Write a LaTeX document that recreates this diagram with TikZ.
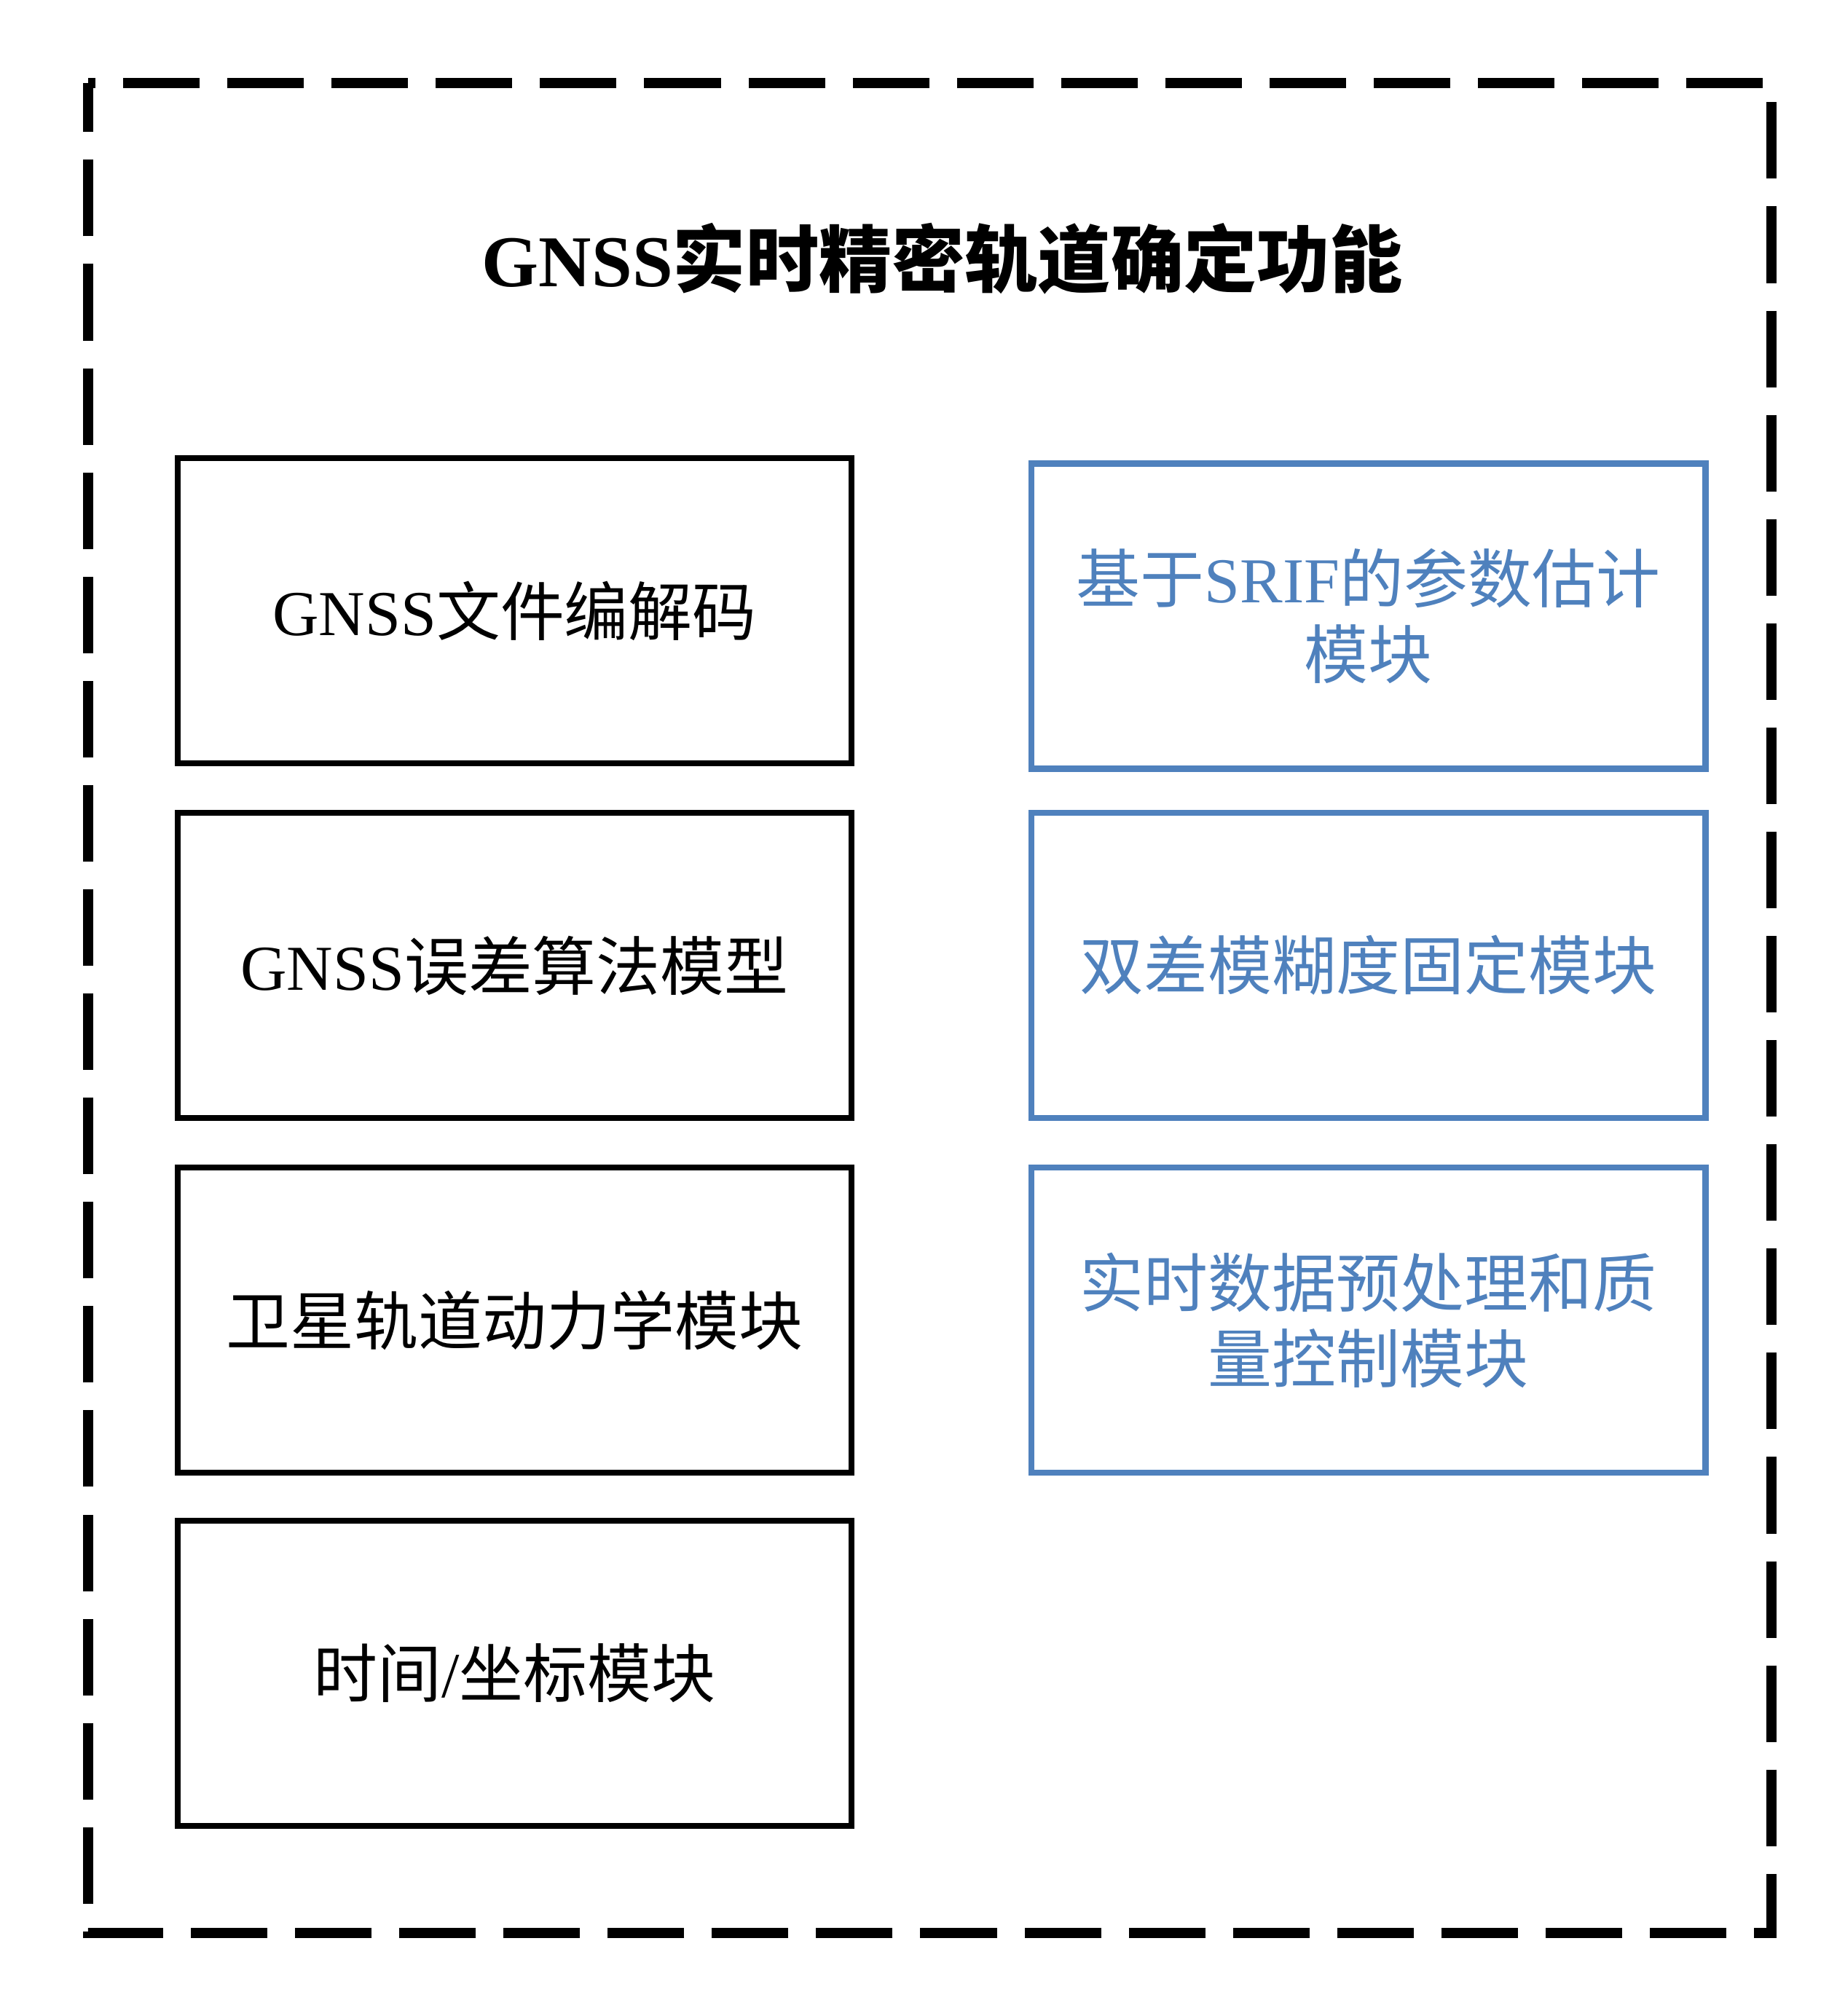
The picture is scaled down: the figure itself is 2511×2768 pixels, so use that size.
\documentclass[tikz,border=0pt]{standalone}
\usepackage{fontspec}
\setmainfont{Liberation Serif}
\newfontfamily\cjk{Noto Sans CJK SC}
\definecolor{modblue}{HTML}{4F81BD}

\begin{document}
\begin{tikzpicture}[x=0.01cm,y=-0.01cm,
    box/.style={draw,line width=2.4pt,minimum width=9.25cm,minimum height=4.19cm,
      inner sep=0pt,align=center,font=\fontsize{25}{29.6}\selectfont},
    bluebox/.style={box,draw=modblue,text=modblue}]
      \useasboundingbox (0,0) rectangle (2511,2768);
      \def\lx{706.5}
      \def\rx{1878.5}

      \draw [line width=0.14cm,dash pattern=on 1.05cm off 0.38cm,dash phase=0.95cm]
        (121,114) -- (2432,114) -- (2432,2654) -- (121,2654) -- cycle;

      \node [anchor=base,font=\fontsize{28.5}{34}\selectfont\bfseries] (title) at (1294,393)
        {GNSS{\cjk 实时精密轨道确定功能}};

      \node [box] (codec) at (\lx,838.5) {GNSS{\cjk 文件编解码}};
      \node [box] (errmodel) at (\lx,1325.5) {GNSS{\cjk 误差算法模型}};
      \node [box] (orbit) at (\lx,1812.5) {{\cjk 卫星轨道动力学模块}};
      \node [box] (timecoord) at (\lx,2297.5) {{\cjk 时间}/{\cjk 坐标模块}};

      \node [bluebox] (srif) at (\rx,846) {{\cjk 基于}SRIF{\cjk 的参数估计}\\{\cjk 模块}};
      \node [bluebox] (ambfix) at (\rx,1325.5) {{\cjk 双差模糊度固定模块}};
      \node [bluebox] (qc) at (\rx,1812.5) {{\cjk 实时数据预处理和质}\\{\cjk 量控制模块}};
    \end{tikzpicture}
\end{document}
